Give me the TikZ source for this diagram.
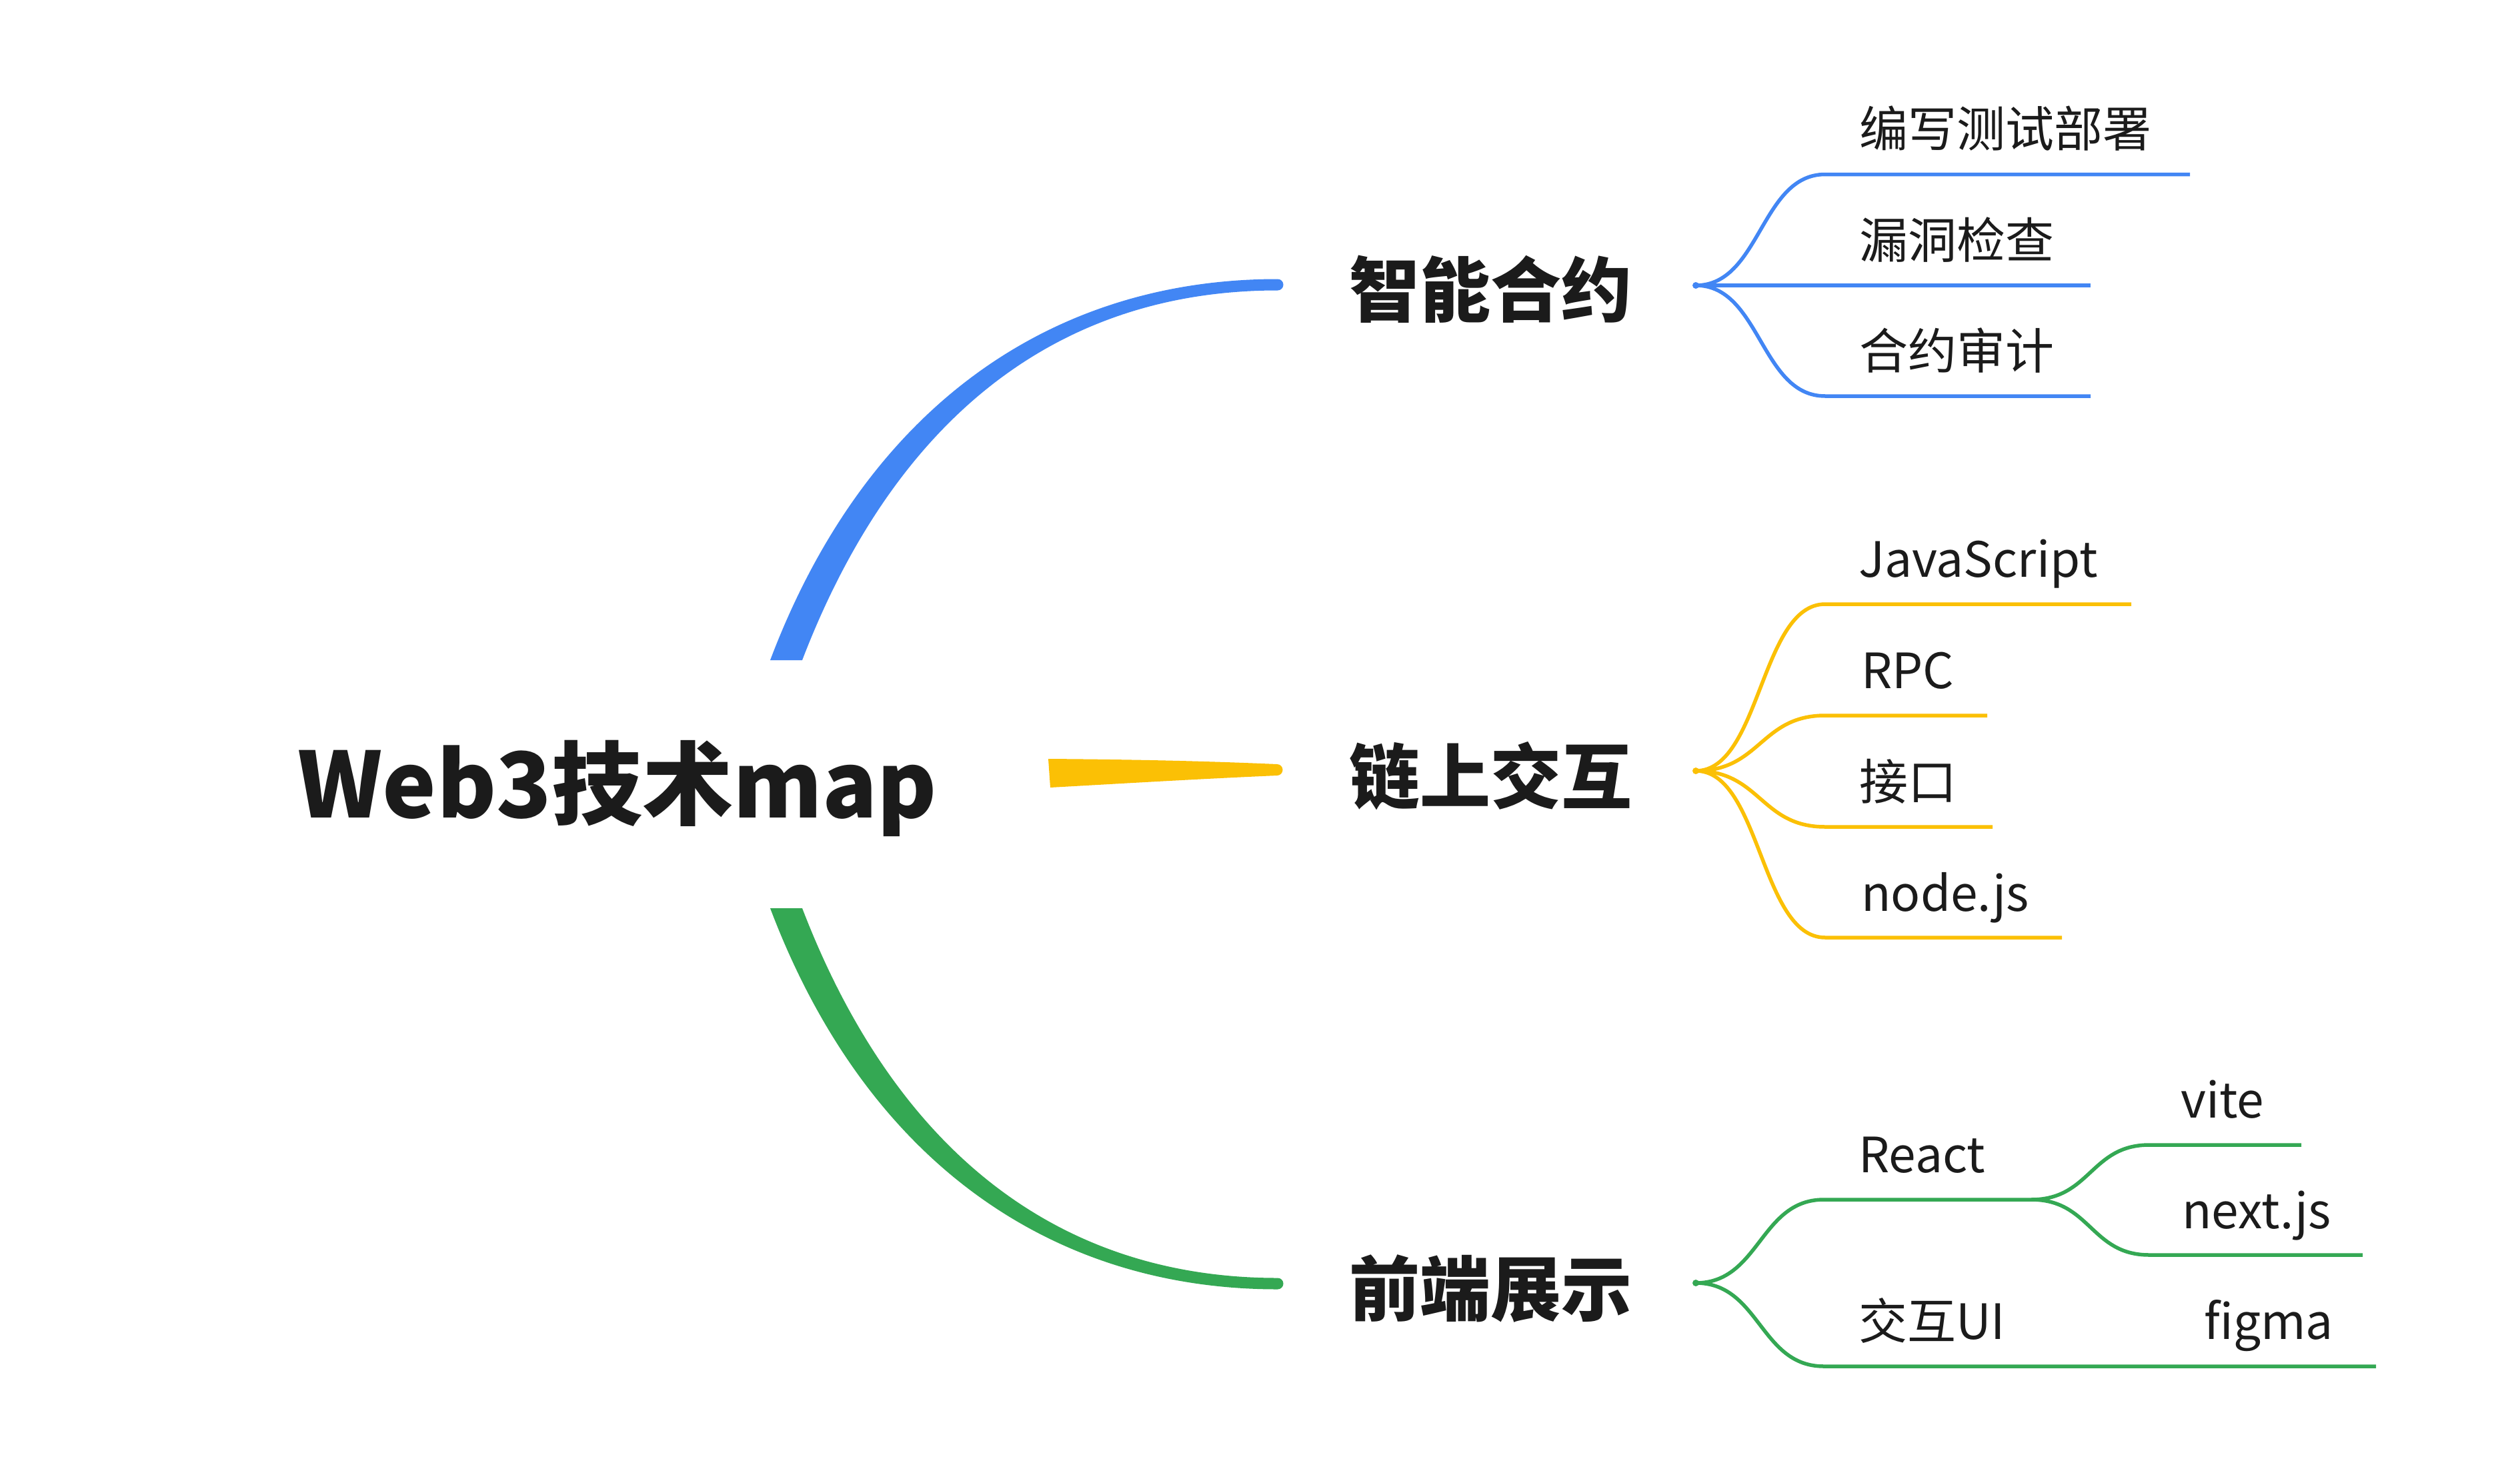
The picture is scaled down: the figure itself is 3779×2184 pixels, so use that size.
\documentclass[tikz,border=0pt]{standalone}
\usepackage{fontspec}
\setmainfont{Noto Sans CJK SC}
\definecolor{bl}{RGB}{66,134,244}
\definecolor{yl}{RGB}{251,192,5}
\definecolor{gr}{RGB}{52,168,83}
\definecolor{ink}{RGB}{27,27,27}
\tikzset{
  titlenode/.style={font=\bfseries\fontsize{136}{160}\selectfont, text=ink, inner sep=0pt, anchor=base},
  mainnode/.style={font=\bfseries\fontsize{106}{120}\selectfont, text=ink, inner sep=0pt, anchor=base},
  leafnode/.style={font=\fontsize{73}{88}\selectfont, text=ink, inner sep=0pt, anchor=base west},
  branch/.style={line width=5.5pt, line cap=butt}
}
\begin{document}
\begin{tikzpicture}[x=1pt,y=-1pt]
\useasboundingbox[fill=white] (0,0) rectangle (3779,2184);

% root and main topics
\node[titlenode] (root) at (926,1226) {Web3技术map};
\node[mainnode] (n1) at (2235,474) {智能合约};
\node[mainnode] (n2) at (2235,1204) {链上交互};
\node[mainnode] (n3) at (2235,1972) {前端展示};

% tapered main connectors
\fill[bl] (1155,990) .. controls (1298,612) and (1575,418.5) .. (1916,418.5)
  arc[start angle=-90, end angle=90, radius=8.5]
  .. controls (1585,435.5) and (1342,628) .. (1203,990) -- cycle;
\fill[gr] (1155,1362) .. controls (1298,1740) and (1575,1933.5) .. (1916,1933.5)
  arc[start angle=90, end angle=-90, radius=8.5]
  .. controls (1585,1916.5) and (1342,1724) .. (1203,1362) -- cycle;
\fill[yl] (1572,1138) .. controls (1700,1139) and (1800,1141) .. (1915,1146)
  arc[start angle=-90, end angle=90, radius=8.5]
  .. controls (1800,1168) and (1700,1174) .. (1575,1181) -- cycle;

% fork points
\coordinate (f1) at (2543,428);
\coordinate (f2) at (2543,1156);
\coordinate (f3) at (2543,1924);
\coordinate (f4) at (3046,1799);

% ---- blue leaves
\node[leafnode] (l11) at (2788,220) {编写测试部署};
\node[leafnode] (l12) at (2788,387) {漏洞检查};
\node[leafnode] (l13) at (2788,553) {合约审计};
\coordinate (s11) at (2737,261.5); \coordinate (e11) at (3284,261.5);
\coordinate (e12) at (3135,428);
\coordinate (s13) at (2737,594); \coordinate (e13) at (3135,594);
\draw[branch,bl] (f1) .. controls (2640,428) and (2640,261.5) .. (s11) -- (e11);
\draw[branch,bl] (f1) -- (e12);
\draw[branch,bl] (f1) .. controls (2640,428) and (2640,594) .. (s13) -- (e13);
\fill[bl] (f1) circle[radius=5];

% ---- yellow leaves
\node[leafnode] (l21) at (2787,865) {JavaScript};
\node[leafnode] (l22) at (2791,1032) {RPC};
\node[leafnode] (l23) at (2788,1199) {接口};
\node[leafnode] (l24) at (2791,1366) {node.js};
\coordinate (s21) at (2737,906);  \coordinate (e21) at (3196,906);
\coordinate (s22) at (2737,1073); \coordinate (e22) at (2980,1073);
\coordinate (s23) at (2737,1240); \coordinate (e23) at (2988,1240);
\coordinate (s24) at (2737,1406); \coordinate (e24) at (3092,1406);
\draw[branch,yl] (f2) .. controls (2640,1156) and (2640,906) .. (s21) -- (e21);
\draw[branch,yl] (f2) .. controls (2640,1156) and (2640,1073) .. (s22) -- (e22);
\draw[branch,yl] (f2) .. controls (2640,1156) and (2640,1240) .. (s23) -- (e23);
\draw[branch,yl] (f2) .. controls (2640,1156) and (2640,1406) .. (s24) -- (e24);
\fill[yl] (f2) circle[radius=5];

% ---- green leaves
\node[leafnode] (l31) at (2787,1758) {React};
\node[leafnode] (l32) at (2787,2008) {交互UI};
\node[leafnode] (l311) at (3270,1676) {vite};
\node[leafnode] (l312) at (3272,1842) {next.js};
\node[leafnode] (l321) at (3305,2008) {figma};
\coordinate (s31) at (2735,1799);
\coordinate (s32) at (2735,2049); \coordinate (m32) at (3050,2049); \coordinate (e32) at (3563,2049);
\coordinate (s311) at (3223,1717); \coordinate (e311) at (3451,1717);
\coordinate (s312) at (3223,1882); \coordinate (e312) at (3543,1882);
\draw[branch,gr] (f3) .. controls (2639,1924) and (2639,1799) .. (s31) -- (f4);
\draw[branch,gr] (f3) .. controls (2639,1924) and (2639,2049) .. (s32) -- (m32) -- (e32);
\draw[branch,gr] (f4) .. controls (3135,1799) and (3135,1717) .. (s311) -- (e311);
\draw[branch,gr] (f4) .. controls (3135,1799) and (3135,1882) .. (s312) -- (e312);
\fill[gr] (f3) circle[radius=5];
\end{tikzpicture}
\end{document}
